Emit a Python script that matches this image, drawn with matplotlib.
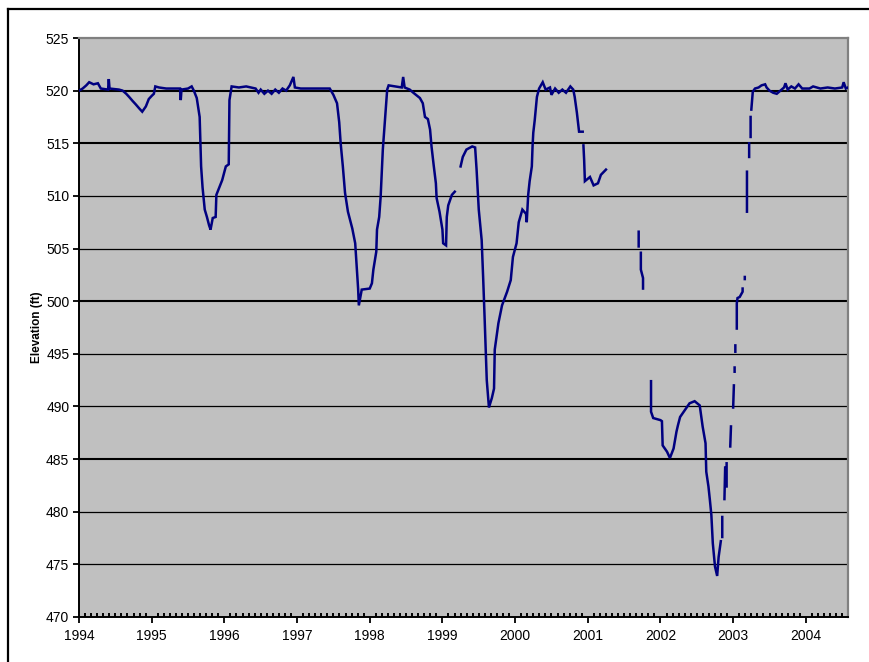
import numpy as np
import matplotlib
matplotlib.use("Agg")
import matplotlib.pyplot as plt
from matplotlib.ticker import MultipleLocator, FixedLocator
from matplotlib.lines import Line2D

plt.rcParams['font.family'] = ['Liberation Sans', 'DejaVu Sans']

nan = np.nan
# decimal year, elevation (ft); NaN marks a gap in the record
years = [
    1994.00, 1994.05, 1994.10, 1994.14, 1994.20, 1994.26, 1994.30, 1994.40, 1994.41, 1994.42,
    1994.55, 1994.60, 1994.65, 1994.69, 1994.74, 1994.78, 1994.83, 1994.87, 1994.92, 1994.96,
    1995.00, 1995.03, 1995.05, 1995.10, 1995.20, 1995.39, 1995.40, 1995.41, 1995.50, 1995.55,
    1995.58, 1995.62, 1995.66, 1995.68, 1995.70, 1995.73, 1995.76, 1995.79, 1995.81, 1995.84,
    1995.88, 1995.89, 1995.93, 1995.97, 1996.02, 1996.06, 1996.07, 1996.10, 1996.20, 1996.30,
    1996.43, 1996.47, 1996.50, 1996.55, 1996.60, 1996.65, 1996.70, 1996.75, 1996.80, 1996.85,
    1996.90, 1996.95, 1996.97, 1997.05, 1997.45, 1997.50, 1997.55, 1997.58, 1997.60, 1997.63,
    1997.66, 1997.70, 1997.76, 1997.80, 1997.82, 1997.84, 1997.85, 1997.89, 1998.00, 1998.03,
    1998.05, 1998.09, 1998.10, 1998.13, 1998.15, 1998.16, 1998.18, 1998.21, 1998.24, 1998.26,
    1998.35, 1998.44, 1998.46, 1998.48, 1998.55, 1998.60, 1998.69, 1998.73, 1998.76, 1998.80,
    1998.83, 1998.85, 1998.88, 1998.91, 1998.92, 1998.96, 1999.00, 1999.01, 1999.05, 1999.06,
    1999.08, 1999.13, 1999.17, nan,
    1999.25, 1999.28, 1999.33, 1999.41, 1999.45, 1999.47, 1999.50, 1999.54, 1999.56, 1999.58,
    1999.61, 1999.64, 1999.68, 1999.71, 1999.72, 1999.77, 1999.82, 1999.89, 1999.94, 1999.97,
    2000.02, 2000.05, 2000.10, 2000.15, 2000.16, 2000.18, 2000.20, 2000.23, 2000.24, 2000.25,
    2000.27, 2000.30, 2000.33, 2000.38, 2000.42, 2000.48, 2000.50, 2000.55, 2000.60, 2000.65,
    2000.70, 2000.76, 2000.80, 2000.82, 2000.85, 2000.88, 2000.93, nan,
    2000.94, 2000.95, 2000.96, 2001.03, 2001.08, 2001.14, 2001.18, 2001.25, nan,
    2001.70, 2001.70, nan,
    2001.73, 2001.73, 2001.76, 2001.76, nan,
    2001.87, 2001.87, 2001.90, 2002.00, 2002.02, 2002.03, 2002.09, 2002.13, 2002.18, 2002.22,
    2002.24, 2002.27, 2002.34, 2002.40, 2002.47, 2002.54, 2002.58, 2002.62, 2002.63, 2002.66,
    2002.68, 2002.70, 2002.72, 2002.75, 2002.78, 2002.80, 2002.83, nan,
    2002.85, 2002.85, nan,
    2002.88, 2002.89, nan,
    2002.91, 2002.91, nan,
    2002.96, 2002.97, nan,
    2003.00, 2003.01, nan,
    2003.02, 2003.02, nan,
    2003.03, 2003.03, nan,
    2003.05, 2003.05, 2003.06, 2003.09, 2003.13, 2003.13, nan,
    2003.16, 2003.16, nan,
    2003.19, 2003.19, nan,
    2003.22, 2003.22, nan,
    2003.24, 2003.24, nan,
    2003.25, 2003.26, 2003.27, 2003.30, 2003.35, 2003.39, 2003.44, 2003.46, 2003.50, 2003.55,
    2003.60, 2003.65, 2003.70, 2003.72, 2003.75, 2003.80, 2003.85, 2003.90, 2003.95, 2004.05,
    2004.10, 2004.20, 2004.30, 2004.40, 2004.50, 2004.52, 2004.55, 2004.58,
]
elevation = [
    520.0, 520.2, 520.5, 520.8, 520.6, 520.7, 520.2, 520.1, 521.1, 520.2,
    520.1, 520.0, 519.7, 519.4, 519.0, 518.7, 518.3, 518.0, 518.5, 519.2,
    519.5, 519.7, 520.4, 520.3, 520.2, 520.2, 519.1, 520.1, 520.2, 520.4,
    520.0, 519.3, 517.5, 512.8, 510.8, 508.7, 508.0, 507.2, 506.8, 507.9,
    508.0, 510.1, 510.8, 511.5, 512.8, 513.0, 519.1, 520.4, 520.3, 520.4,
    520.2, 519.8, 520.1, 519.7, 520.0, 519.7, 520.1, 519.8, 520.2, 520.0,
    520.5, 521.3, 520.3, 520.2, 520.2, 519.6, 518.8, 517.0, 515.0, 512.8,
    510.3, 508.5, 506.9, 505.5, 503.3, 501.2, 499.6, 501.1, 501.2, 501.7,
    503.0, 504.7, 506.8, 508.0, 509.9, 511.4, 514.4, 517.2, 520.1, 520.5,
    520.4, 520.3, 521.3, 520.3, 520.1, 519.8, 519.3, 518.8, 517.5, 517.3,
    516.3, 514.7, 512.9, 511.2, 509.8, 508.5, 506.8, 505.5, 505.3, 508.0,
    509.1, 510.1, 510.4, nan,
    512.8, 513.7, 514.4, 514.7, 514.6, 512.5, 508.7, 505.8, 502.3, 498.5,
    492.5, 489.9, 490.8, 491.7, 495.4, 497.9, 499.6, 500.9, 502.0, 504.2,
    505.5, 507.5, 508.7, 508.3, 507.5, 510.1, 511.4, 512.8, 514.7, 516.0,
    517.2, 519.4, 520.2, 520.8, 520.1, 520.3, 519.6, 520.2, 519.8, 520.1,
    519.8, 520.4, 520.1, 519.4, 517.9, 516.1, 516.1, nan,
    514.8, 513.4, 511.4, 511.8, 511.0, 511.2, 512.0, 512.5, nan,
    506.6, 505.2, nan,
    504.6, 503.0, 502.2, 501.2, nan,
    492.4, 489.5, 488.9, 488.7, 488.6, 486.3, 485.7, 485.1, 486.0, 487.6,
    488.2, 489.0, 489.7, 490.3, 490.5, 490.1, 488.1, 486.5, 483.8, 482.4,
    481.1, 479.7, 477.0, 474.8, 473.9, 475.7, 477.2, nan,
    477.6, 479.5, nan,
    481.2, 484.2, nan,
    482.4, 484.6, nan,
    486.2, 488.1, nan,
    489.9, 492.0, nan,
    493.3, 493.7, nan,
    495.2, 495.8, nan,
    497.4, 499.8, 500.3, 500.4, 500.9, 501.2, nan,
    502.1, 502.3, nan,
    508.5, 512.3, nan,
    513.7, 515.0, nan,
    515.6, 517.5, nan,
    518.2, 519.1, 519.9, 520.2, 520.3, 520.5, 520.6, 520.3, 520.0, 519.8,
    519.7, 520.0, 520.3, 520.7, 520.1, 520.4, 520.2, 520.6, 520.2, 520.2,
    520.4, 520.2, 520.3, 520.2, 520.3, 520.8, 520.2, 520.3,
]
year_ticks = list(range(1994, 2005))
elev_ticks = list(range(470, 526, 5))

fig = plt.figure(figsize=(8.7, 6.62), dpi=100)
ax = fig.add_axes([79/870, 1 - 617/662, (848-79)/870, (617-38)/662])
ax.set_facecolor('#c0c0c0')

# gridlines
for v in elev_ticks[1:-1]:
    lw = 1.5 if v in (520, 515, 500, 485) else 0.9
    ax.axhline(v, color='black', lw=lw, zorder=1)

ax.plot(years, elevation, color='#000080', lw=1.8, zorder=3, solid_joinstyle='miter')

ax.set_xlim(1994, 2004.58)
ax.set_ylim(470, 525)
ax.xaxis.set_major_locator(FixedLocator(year_ticks))
ax.xaxis.set_minor_locator(MultipleLocator(1/12))
ax.yaxis.set_major_locator(FixedLocator(elev_ticks))
ax.tick_params(axis='x', which='major', direction='out', length=4, width=1.3,
               labelsize=10, pad=5, colors='black')
ax.tick_params(axis='x', which='minor', direction='in', length=3, width=1.4)
ax.tick_params(axis='y', which='major', direction='out', length=4, width=1.3,
               labelsize=10, pad=3)

for s in ('left', 'bottom'):
    ax.spines[s].set_color('black')
    ax.spines[s].set_linewidth(1.4)
for s in ('top', 'right'):
    ax.spines[s].set_color('#808080')
    ax.spines[s].set_linewidth(1.6)

ax.set_ylabel('Elevation (ft)', fontsize=8.5, fontweight='bold')
ax.yaxis.set_label_coords((43 - 79) / 769, 0.5)

# figure border (top and left edges visible)
fig.add_artist(Line2D([8/870, 1.0], [1 - 8.5/662, 1 - 8.5/662], color='black', lw=1.6,
                      transform=fig.transFigure))
fig.add_artist(Line2D([8.5/870, 8.5/870], [0, 1 - 8.5/662], color='black', lw=1.6,
                      transform=fig.transFigure))

fig.savefig('out.png', dpi=100)
